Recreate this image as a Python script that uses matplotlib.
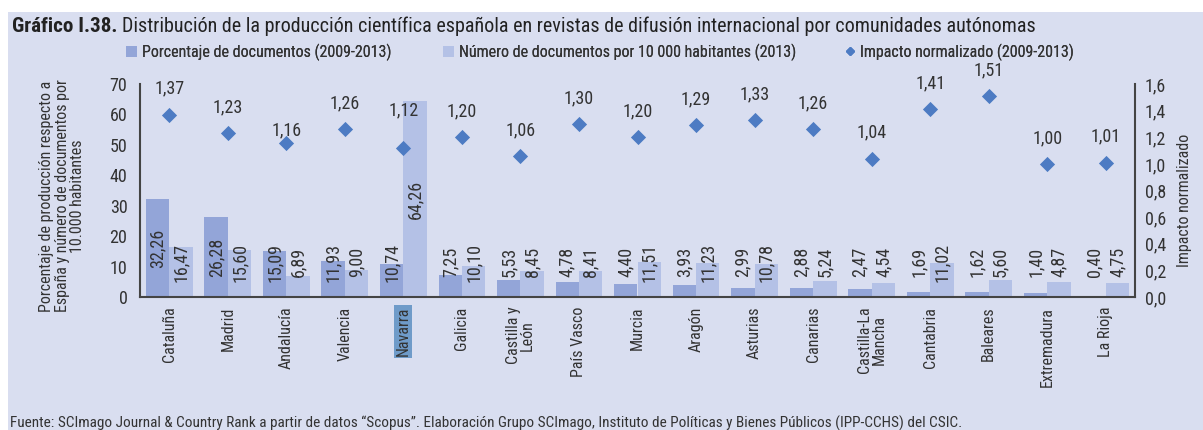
import matplotlib
matplotlib.use("Agg")
import matplotlib.pyplot as plt
from matplotlib.patches import Rectangle
from matplotlib.lines import Line2D
from matplotlib.ticker import FuncFormatter, MultipleLocator
from matplotlib import font_manager as fm
import numpy as np

names = {f.name for f in fm.fontManager.ttflist}
family = None
for cand in ["Liberation Sans Narrow", "Arial Narrow", "Roboto Condensed",
             "Open Sans Condensed", "Liberation Sans"]:
    if cand in names:
        family = cand
        break
plt.rcParams['font.family'] = [family or "DejaVu Sans", "DejaVu Sans"]

regions = ["Cataluña", "Madrid", "Andalucía", "Valencia", "Navarra", "Galicia",
           "Castilla y\nLeón", "País Vasco", "Murcia", "Aragón", "Asturias",
           "Canarias", "Castilla-La\nMancha", "Cantabria", "Baleares",
           "Extremadura", "La Rioja"]
pct_docs = [32.26, 26.28, 15.09, 11.93, 10.74, 7.25, 5.53, 4.78, 4.40, 3.93,
            2.99, 2.88, 2.47, 1.69, 1.62, 1.40, 0.40]
docs_per_10k = [16.47, 15.60, 6.89, 9.00, 64.26, 10.10, 8.45, 8.41, 11.51,
                11.23, 10.78, 5.24, 4.54, 11.02, 5.60, 4.87, 4.75]
impact = [1.37, 1.23, 1.16, 1.26, 1.12, 1.20, 1.06, 1.30, 1.20, 1.29, 1.33,
          1.26, 1.04, 1.41, 1.51, 1.00, 1.01]
series_names = ["Porcentaje de documentos (2009-2013)",
                "Número de documentos por 10 000 habitantes (2013)",
                "Impacto normalizado (2009-2013)"]

BG = "#d9def0"
DARK = "#93a5d8"
LIGHT = "#b4c1e6"
DIAM = "#4d7bc3"
TXT = "#333333"
SPINE = "#444444"

def fmt(v, d=2):
    return f"{v:.{d}f}".replace(".", ",")

fig = plt.figure(figsize=(12.03, 4.30), dpi=100)
fig.patch.set_facecolor("white")
fig.add_artist(Rectangle((8 / 1203, 0), 1, 1 - 12 / 430, transform=fig.transFigure,
                         facecolor=BG, edgecolor="none", zorder=-10))
renderer = fig.canvas.get_renderer()

def fit_width(t, target_px):
    w = t.get_window_extent(renderer).width
    t.set_fontsize(t.get_fontsize() * target_px / w)

FS = 11.5   # words
FD = 13     # numbers

ax = fig.add_axes([140 / 1203, 1 - 297 / 430, (1135 - 140) / 1203, (297 - 84) / 430])
ax.set_facecolor("none")
x = np.arange(len(regions))
w = 0.4
ax.bar(x - w / 2, pct_docs, w, color=DARK, zorder=2)
ax.bar(x + w / 2, docs_per_10k, w, color=LIGHT, zorder=2)
ax.set_xlim(-0.5, len(regions) - 0.5)
ax.set_ylim(0, 70)
ax.yaxis.set_major_locator(MultipleLocator(10))
ax.tick_params(axis="both", length=0, colors=TXT)
ax.tick_params(axis="y", pad=9, labelsize=FD)
for s in ["top", "right"]:
    ax.spines[s].set_visible(False)
for s in ["left", "bottom"]:
    ax.spines[s].set_color(SPINE)
    ax.spines[s].set_linewidth(1.5)

def label_y(v):
    return max(v / 2, 11.5)

for i, (a, b) in enumerate(zip(pct_docs, docs_per_10k)):
    ax.text(i - w / 2, label_y(a), fmt(a), rotation=90, ha="center", va="center",
            fontsize=FD, color=TXT, zorder=3)
    ax.text(i + w / 2, label_y(b), fmt(b), rotation=90, ha="center", va="center",
            fontsize=FD, color=TXT, zorder=3)

ax.set_xticks(x)
ax.set_xticklabels(regions, rotation=90, fontsize=FS, color=TXT, va="top",
                   linespacing=0.95)
ax.tick_params(axis="x", pad=7)
for lbl in ax.get_xticklabels():
    if lbl.get_text() == "Navarra":
        lbl.set_bbox(dict(facecolor="#6f9bc9", edgecolor="none", pad=1.0))

ax.set_ylabel("Porcentaje de producción respecto a\nEspaña y número de documentos por\n10.000 habitantes",
              fontsize=FS, color=TXT, linespacing=1.05)
ax.yaxis.set_label_coords(62 / 1203, 1 - 196 / 430, transform=fig.transFigure)
ax.yaxis.label.set_va("center")

ax2 = ax.twinx()
ax2.set_ylim(0, 1.6)
ax2.yaxis.set_major_locator(MultipleLocator(0.2))
ax2.yaxis.set_major_formatter(FuncFormatter(lambda v, p: fmt(v, 1)))
ax2.tick_params(axis="y", length=0, labelsize=FD, colors=TXT, pad=7)
for s in ["top", "left", "bottom"]:
    ax2.spines[s].set_visible(False)
ax2.spines["right"].set_color(SPINE)
ax2.spines["right"].set_linewidth(1.5)
ax2.scatter(x, impact, marker="D", s=60, color=DIAM, zorder=4, linewidths=0)
ax2.set_ylabel("Impacto normalizado", fontsize=FS, color=TXT, rotation=90)
ax2.yaxis.set_label_position("right")
ax2.yaxis.set_label_coords(1185 / 1203, 1 - 200 / 430, transform=fig.transFigure)
ax2.yaxis.label.set_va("center")

offsets = {2: 12, 4: 38}
for i, v in enumerate(impact):
    ax2.annotate(fmt(v), (i, v), xytext=(0, offsets.get(i, 26)), textcoords="offset pixels",
                 ha="center", va="center", fontsize=FD, color=TXT, annotation_clip=False)

handles = [Rectangle((0, 0), 1, 1, facecolor=DARK, edgecolor="none"),
           Rectangle((0, 0), 1, 1, facecolor=LIGHT, edgecolor="none"),
           Line2D([], [], marker="D", linestyle="none", color=DIAM, markersize=4.5)]
leg_x = [126, 443, 844]
for h, name, lx in zip(handles, series_names, leg_x):
    lg = fig.legend([h], [name], loc="center left", frameon=False,
                    bbox_to_anchor=(lx / 1203, 1 - 52 / 430), fontsize=FS,
                    handlelength=0.7, handleheight=0.7, handletextpad=0.3,
                    borderpad=0, borderaxespad=0, labelcolor=TXT)
    fig.add_artist(lg)

t1 = fig.text(12 / 1203, 1 - 26 / 430, "Gráfico I.38.", fontsize=13.5, fontweight="bold",
              color="#222222", va="center", ha="left")
fit_width(t1, 105)
t2 = fig.text(122 / 1203, 1 - 26 / 430,
              "Distribución de la producción científica española en revistas de difusión internacional por comunidades autónomas",
              fontsize=13.5, color="#222222", va="center", ha="left")
fit_width(t2, 913)
t3 = fig.text(10 / 1203, 1 - 423 / 430,
              "Fuente: SCImago Journal & Country Rank a partir de datos “Scopus”. Elaboración Grupo SCImago, Instituto de Políticas y Bienes Públicos (IPP-CCHS) del CSIC.",
              fontsize=10, color=TXT, va="center", ha="left")
fit_width(t3, 950)

fig.savefig("out.png", dpi=100, facecolor=fig.get_facecolor())
